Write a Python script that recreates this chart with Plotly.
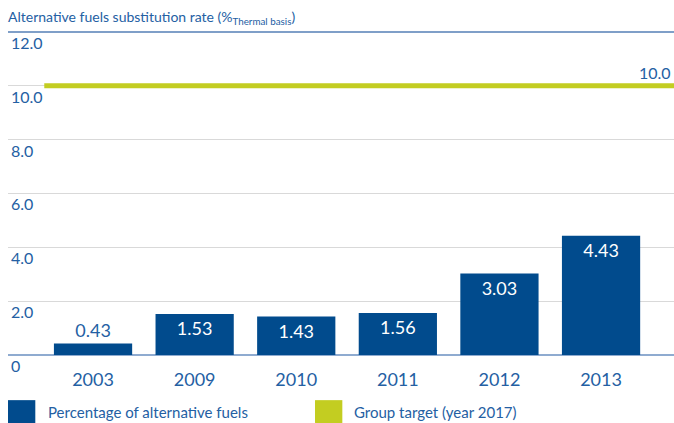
import plotly.graph_objects as go

years = ["2003", "2009", "2010", "2011", "2012", "2013"]
alt_fuel_pct = [0.43, 1.53, 1.43, 1.56, 3.03, 4.43]
group_target = 10.0
y_ticks = [0, 2, 4, 6, 8, 10, 12]
y_tick_text = ["0", "2.0", "4.0", "6.0", "8.0", "10.0", "12.0"]

BAR_BLUE = "#014b8d"
TARGET_GREEN = "#c3cd21"
TEXT_BLUE = "#2460a3"
FONT = "Lato, 'Open Sans', sans-serif"

x_pos = list(range(len(years)))
text_pos = ["outside" if v < 1 else "inside" for v in alt_fuel_pct]
text_col = [TEXT_BLUE if v < 1 else "white" for v in alt_fuel_pct]

fig = go.Figure()
fig.add_trace(go.Bar(
    x=x_pos, y=alt_fuel_pct, width=0.77,
    marker=dict(color=BAR_BLUE, line=dict(width=0)),
    text=[f"{v:.2f}" for v in alt_fuel_pct],
    textposition=text_pos, insidetextanchor="end",
    textfont=dict(size=18, color=text_col, family=FONT),
    cliponaxis=False, showlegend=False,
))

x_left, x_right = -0.837, 5.718

# target line
fig.add_shape(type="line", xref="x", yref="y", x0=-0.48, x1=x_right,
              y0=group_target, y1=group_target,
              line=dict(color=TARGET_GREEN, width=5))
fig.add_annotation(xref="paper", yref="y", x=1, y=group_target,
                   text=f"{group_target:.1f}", showarrow=False,
                   xanchor="right", yanchor="bottom", yshift=2, xshift=-1,
                   font=dict(size=16, color=TEXT_BLUE, family=FONT))

# top rule
fig.add_shape(type="line", xref="paper", yref="paper", x0=0, x1=1, y0=1, y1=1,
              line=dict(color="#7f9fc8", width=2))

fig.add_annotation(xref="paper", yref="paper", x=0, y=1, xanchor="left", yanchor="bottom",
                   yshift=3, xshift=-2, showarrow=False, align="left",
                   text="Alternative fuels substitution rate (%<sub>Thermal basis</sub>)",
                   font=dict(size=14, color=TEXT_BLUE, family=FONT))

# legend
fig.add_shape(type="rect", xref="paper", yref="paper", x0=0, x1=0.041, y0=-0.064, y1=-0.13,
              fillcolor=BAR_BLUE, line=dict(width=0))
fig.add_annotation(xref="paper", yref="paper", x=0.057, y=-0.098, xanchor="left", yanchor="middle",
                   showarrow=False, text="Percentage of alternative fuels",
                   font=dict(size=15, color=TEXT_BLUE, family=FONT))
fig.add_shape(type="rect", xref="paper", yref="paper", x0=0.461, x1=0.502, y0=-0.064, y1=-0.13,
              fillcolor=TARGET_GREEN, line=dict(width=0))
fig.add_annotation(xref="paper", yref="paper", x=0.517, y=-0.098, xanchor="left", yanchor="middle",
                   showarrow=False, text="Group target (year 2017)",
                   font=dict(size=15, color=TEXT_BLUE, family=FONT))

fig.update_layout(
    width=674, height=423,
    margin=dict(l=8, r=0, t=32, b=45),
    paper_bgcolor="white", plot_bgcolor="white",
    font=dict(family=FONT, color=TEXT_BLUE),
    xaxis=dict(range=[x_left, x_right], tickvals=x_pos, ticktext=years,
               showgrid=False, zeroline=False, showline=False,
               ticks="", ticklabelstandoff=-11,
               tickfont=dict(size=18, color=TEXT_BLUE, family=FONT)),
    yaxis=dict(range=[-0.85, 12], tickvals=y_ticks, ticktext=y_tick_text,
               showgrid=True, gridcolor="#d9d9d9", gridwidth=1,
               zeroline=True, zerolinecolor="#8fabd0", zerolinewidth=2,
               showline=False, ticks="", ticklabelposition="inside bottom",
               tickfont=dict(size=16, color=TEXT_BLUE, family=FONT)),
)

# drop the default body margin so the figure sits flush in the window
fig.write_html("out.html", config={"displayModeBar": False},
               post_script="document.body.style.margin='0';document.body.style.overflow='hidden';")
